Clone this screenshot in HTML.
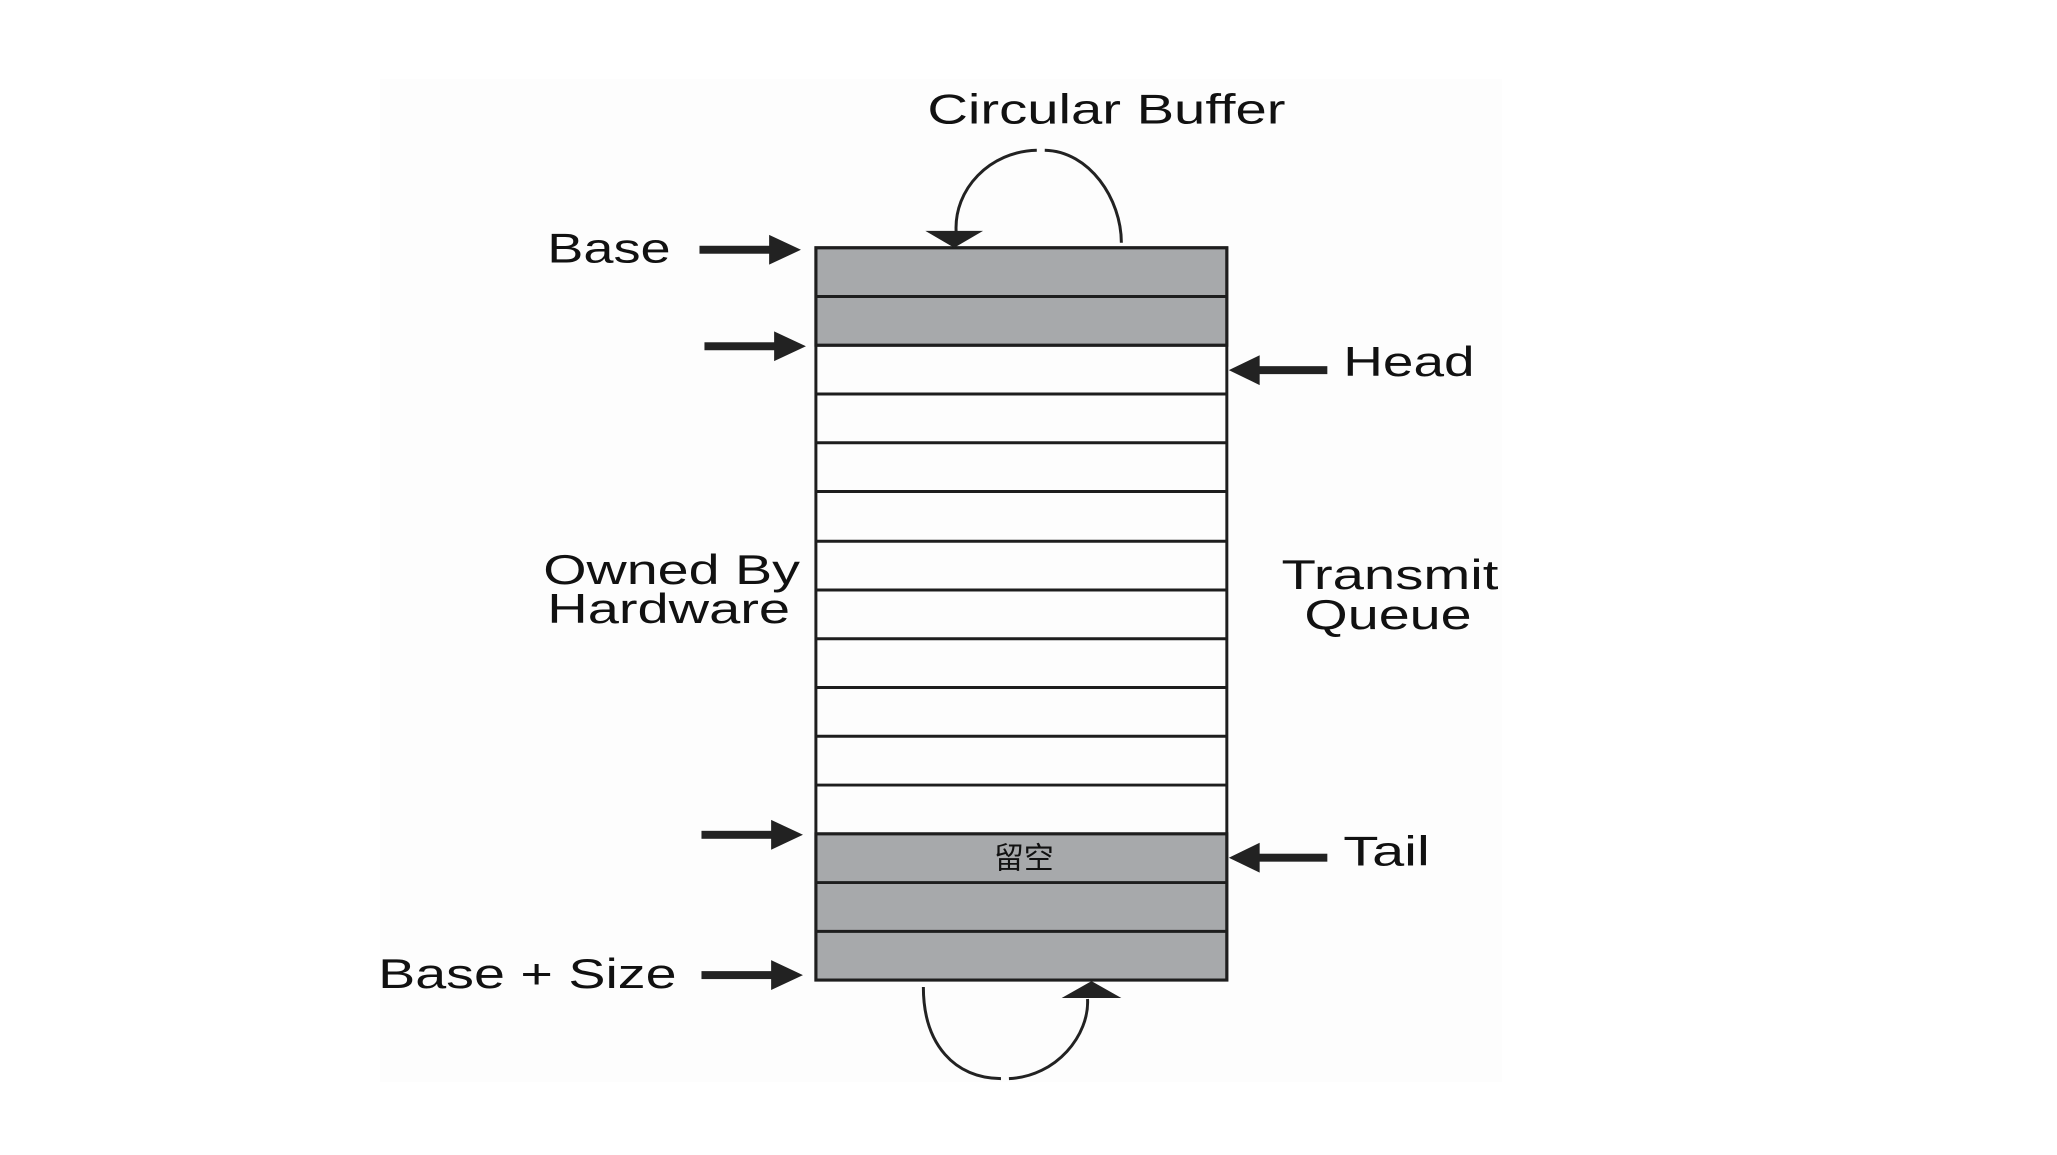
<!DOCTYPE html>
<html><head><meta charset="utf-8"><style>html,body{margin:0;padding:0;background:#fff;}svg{display:block}</style></head>
<body>
<svg width="2057" height="1155" viewBox="0 0 2057 1155" xmlns="http://www.w3.org/2000/svg">
<rect x="380" y="79" width="1122" height="1003" fill="#fdfdfd"/>
<g transform="scale(0.995)">
<g stroke="#1e1e1e" stroke-width="3">
<rect x="820" y="249" width="413" height="98" fill="#a7a9ab"/>
<rect x="820" y="838" width="413" height="147" fill="#a7a9ab"/>
<rect x="820" y="249" width="413" height="736" fill="none"/>
<path d="M820 298H1233M820 347H1233M820 396H1233M820 445H1233M820 494H1233M820 544H1233M820 593H1233M820 642H1233M820 691H1233M820 740H1233M820 789H1233M820 838H1233M820 887H1233M820 936H1233" fill="none"/>
</g>
<g fill="#222" stroke="none">
<rect x="703" y="247" width="72" height="8"/><polygon points="773,236 805,251 773,266"/>
<rect x="708" y="344" width="72" height="8"/><polygon points="778,333 810,348 778,363"/>
<rect x="705" y="835" width="72" height="8"/><polygon points="775,824 807,839 775,854"/>
<rect x="705" y="976" width="72" height="8"/><polygon points="775,965 807,980 775,995"/>
<rect x="1264" y="368" width="70" height="8"/><polygon points="1266,357 1235,372 1266,387"/>
<rect x="1264" y="858" width="70" height="8"/><polygon points="1266,847 1235,862 1266,877"/>
<polygon points="930,232 988,232 959,249"/>
<polygon points="1067,1003 1127,1003 1097,986"/>
</g>
<g fill="none" stroke="#222" stroke-width="3">
<path d="M961 234 C958 190 995 152 1042 151"/>
<path d="M1050 151 C1095 152 1127 200 1127 244"/>
<path d="M928 992 C928 1050 960 1084 1006 1084"/>
<path d="M1014 1084 C1062 1082 1095 1040 1093 1004"/>
</g>
<g font-family="Liberation Sans, Arial, sans-serif" font-size="42" fill="#111">
<text x="932" y="124" textLength="360" lengthAdjust="spacingAndGlyphs">Circular Buffer</text>
<text x="550" y="264" textLength="124" lengthAdjust="spacingAndGlyphs">Base</text>
<text x="1350" y="378" textLength="132" lengthAdjust="spacingAndGlyphs">Head</text>
<text x="546" y="587" textLength="258" lengthAdjust="spacingAndGlyphs">Owned By</text>
<text x="550" y="626" textLength="244" lengthAdjust="spacingAndGlyphs">Hardware</text>
<text x="1288" y="592" textLength="218" lengthAdjust="spacingAndGlyphs">Transmit</text>
<text x="1311" y="632" textLength="168" lengthAdjust="spacingAndGlyphs">Queue</text>
<text x="1350" y="870" textLength="87" lengthAdjust="spacingAndGlyphs">Tail</text>
<text x="380" y="993" textLength="300" lengthAdjust="spacingAndGlyphs">Base + Size</text>
</g>
<text x="1029" y="873" text-anchor="middle" font-family="Liberation Sans, Noto Sans CJK SC, sans-serif" font-size="30" fill="#111">留空</text>
</g>
</svg>
</body></html>
